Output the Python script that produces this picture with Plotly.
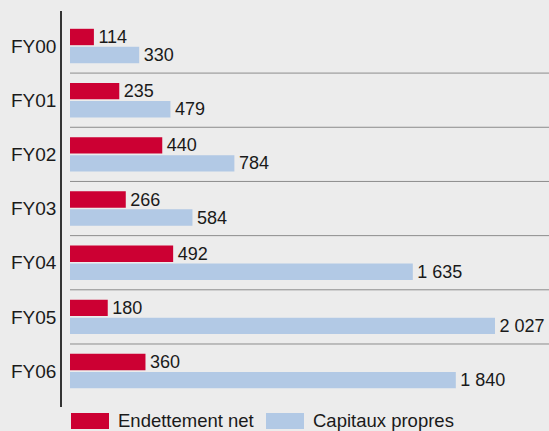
import plotly.graph_objects as go

categories = ["FY00", "FY01", "FY02", "FY03", "FY04", "FY05", "FY06"]
endettement_net = [114, 235, 440, 266, 492, 180, 360]
capitaux_propres = [330, 479, 784, 584, 1635, 2027, 1840]
series_names = ["Endettement net", "Capitaux propres"]
series_colors = ["#cc0033", "#b2c9e5"]

W, H = 549, 431
ML, MR, MT, MB = 62, 0, 11, 24
FONT = "Liberation Sans, Arial, sans-serif"


def fmt(v):
    return f"{v:,}".replace(",", " ")


fig = go.Figure()
for name, vals, col in zip(series_names, [endettement_net, capitaux_propres], series_colors):
    fig.add_trace(go.Bar(
        y=categories, x=vals, orientation="h", name=name,
        marker=dict(color=col, line=dict(width=0)),
        text=[fmt(v) for v in vals], texttemplate="\u200a%{text}",
        textposition="outside", constraintext="none",
        textfont=dict(family=FONT, size=18, color="#1a1a1a"),
        cliponaxis=False, showlegend=False, hoverinfo="skip",
    ))

xr = [-38.15, 2284.5]
shapes = []
for i in range(len(categories) - 1):
    shapes.append(dict(type="line", xref="x", yref="y", x0=0, x1=xr[1],
                       y0=i + 0.5, y1=i + 0.5,
                       line=dict(color="#8c8c8c", width=1)))

# custom legend
pw = W - ML - MR
ph = H - MT - MB
annotations = []
legend_x = [71, 266]
for name, col, lx in zip(series_names, series_colors, legend_x):
    shapes.append(dict(type="rect", xref="paper", yref="paper",
                       x0=(lx - ML) / pw, x1=(lx + 38 - ML) / pw,
                       y0=(H - MB - 413) / ph, y1=(H - MB - 429) / ph,
                       fillcolor=col, line=dict(width=0)))
    annotations.append(dict(xref="paper", yref="paper",
                            x=(lx + 45 - ML) / pw, y=(H - MB - 421) / ph,
                            text=name, showarrow=False, xanchor="left", yanchor="middle",
                            font=dict(family=FONT, size=18.5, color="#1a1a1a")))

fig.update_layout(
    width=W, height=H,
    margin=dict(l=ML, r=MR, t=MT, b=MB, pad=0, autoexpand=False),
    paper_bgcolor="#ececec", plot_bgcolor="#ececec",
    barmode="group", bargap=0.335, bargroupgap=0.09,
    xaxis=dict(range=xr, visible=False, showgrid=False, zeroline=False, automargin=False),
    yaxis=dict(categoryorder="array", categoryarray=categories,
               range=[6.663, -0.646], showgrid=False, zeroline=False,
               showline=True, linecolor="#333333", linewidth=1.5,
               ticks="", ticklabelstandoff=0, automargin=False,
               tickfont=dict(family=FONT, size=19, color="#1a1a1a")),
    shapes=shapes, annotations=annotations,
    showlegend=False,
)

fig.write_html("out.html", config={"displayModeBar": False},
               post_script="document.body.style.margin='0';document.body.style.overflow='hidden';")
